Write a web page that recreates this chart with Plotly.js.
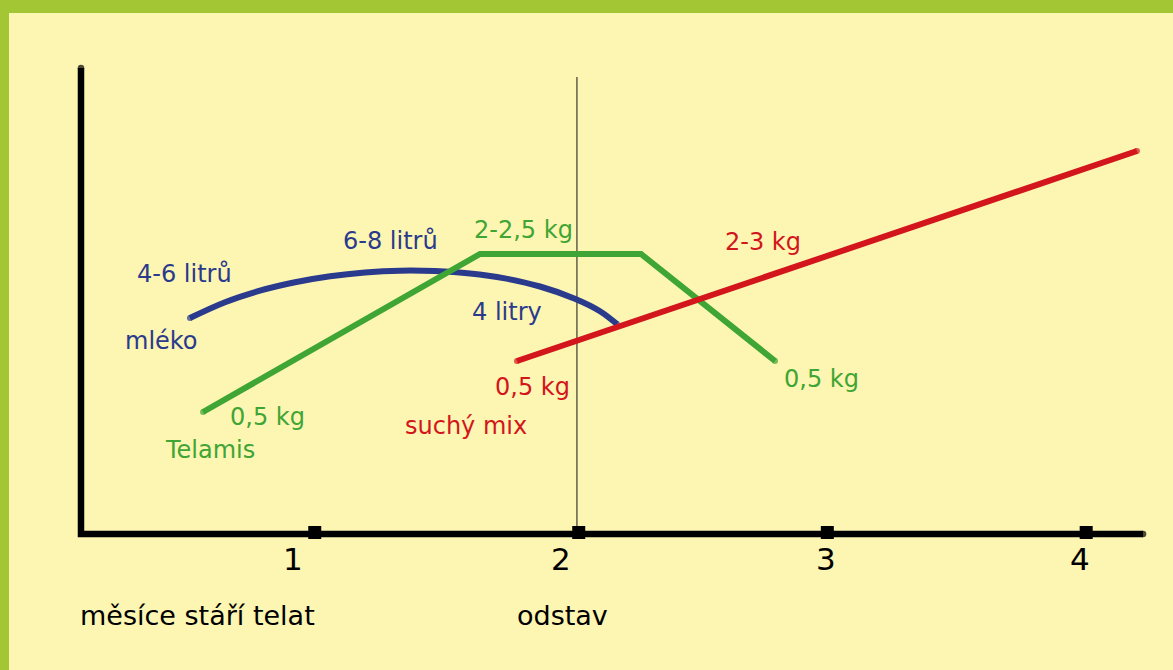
<!DOCTYPE html>
<html>
<head>
<meta charset="utf-8">
<script src="https://cdn.plot.ly/plotly-3.0.1.min.js"></script>
<style>html,body{margin:0;padding:0;background:#A3C634;}#chart{width:1173px;height:670px;}</style>
</head>
<body>
<div id="chart"></div>
<script>
// x: months of calf age, y: relative feeding level (arbitrary units)
const milkX = [0.503, 0.640, 0.776, 0.913, 1.050, 1.186, 1.323, 1.459, 1.596, 1.732, 1.869, 2.005, 2.103, 2.169];
const milkY = [2.16, 2.318, 2.433, 2.517, 2.577, 2.615, 2.633, 2.629, 2.605, 2.556, 2.475, 2.353, 2.228, 2.10];
const telamisX = [0.554, 1.635, 2.263, 2.786];
const telamisY = [1.22, 2.80, 2.80, 1.73];
const mixX = [1.779, 4.198];
const mixY = [1.73, 3.83];
const tickMarkX = [0.99, 2.02, 2.99, 4.0];
const tickLabels = ["1", "2", "3", "4"];
const tickLabelX = [0.905, 1.951, 2.985, 3.976];
const weaningX = 2.013;

const BLUE = "#2A3A8C", GREEN = "#3FA535", RED = "#D3151C";
const FONT = "DejaVu Sans, Open Sans, sans-serif";

// round line caps: a dot of the line width at both ends
function capSizes(n, w) { return Array.from({length: n}, (_, i) => (i === 0 || i === n - 1) ? w : 0); }

const traces = [
  // axes
  {x: [0.078, 0.078, 4.222], y: [4.66, 0, 0], mode: "lines+markers",
   line: {color: "#000", width: 6.5}, marker: {size: [6.5, 0, 6.5], color: "#000", line: {width: 0}}, hoverinfo: "skip"},
  // weaning line
  {x: [weaningX, weaningX], y: [0, 4.57], mode: "lines", line: {color: "#3a3a30", width: 1.2}, hoverinfo: "skip"},
  // tick squares
  {x: tickMarkX, y: tickMarkX.map(() => 0.015), mode: "markers", marker: {symbol: "square", size: 13, color: "#000"}, hoverinfo: "skip"},
  {x: milkX, y: milkY, mode: "lines+markers", line: {color: BLUE, width: 6, shape: "spline", smoothing: 1},
   marker: {size: capSizes(milkX.length, 6), color: BLUE, line: {width: 0}}, name: "mléko"},
  {x: telamisX, y: telamisY, mode: "lines+markers", line: {color: GREEN, width: 6},
   marker: {size: capSizes(telamisX.length, 6), color: GREEN, line: {width: 0}}, name: "Telamis"},
  {x: mixX, y: mixY, mode: "lines+markers", line: {color: RED, width: 6},
   marker: {size: capSizes(mixX.length, 6), color: RED, line: {width: 0}}, name: "suchý mix"}
];

function lab(text, x, y, color, size, anchor) {
  return {text: text, x: x, y: y, xref: "x", yref: "y", showarrow: false,
    xanchor: anchor || "center", yanchor: "middle",
    font: {family: FONT, size: size, color: color}};
}

const annotations = [
  lab("4-6 litrů", 0.480, 2.60, BLUE, 24),
  lab("6-8 litrů", 1.284, 2.93, BLUE, 24),
  lab("mléko", 0.394, 1.93, BLUE, 24),
  lab("4 litry", 1.740, 2.225, BLUE, 24),
  lab("2-2,5 kg", 1.806, 3.04, GREEN, 24),
  lab("0,5 kg", 0.804, 1.17, GREEN, 24),
  lab("Telamis", 0.581, 0.84, GREEN, 24),
  lab("0,5 kg", 1.838, 1.475, RED, 24),
  lab("suchý mix", 1.580, 1.08, RED, 24),
  lab("0,5 kg", 2.969, 1.553, GREEN, 24),
  lab("2-3 kg", 2.739, 2.925, RED, 24),
  lab("měsíce stáří telat", 0.066, -0.81, "#000", 27, "left"),
  lab("odstav", 1.771, -0.81, "#000", 27, "left")
];
tickLabels.forEach((t, i) => annotations.push(lab(t, tickLabelX[i], -0.25, "#000", 31)));

const layout = {
  width: 1173, height: 670,
  margin: {l: 9, r: 0, t: 13, b: 0, pad: 0},
  paper_bgcolor: "#A3C634",
  plot_bgcolor: "#FDF5B2",
  showlegend: false,
  xaxis: {range: [-0.2029, 4.3387], visible: false, fixedrange: true},
  yaxis: {range: [-1.36, 5.21], visible: false, fixedrange: true},
  annotations: annotations
};

Plotly.newPlot("chart", traces, layout, {displayModeBar: false, staticPlot: true});
</script>
</body>
</html>
